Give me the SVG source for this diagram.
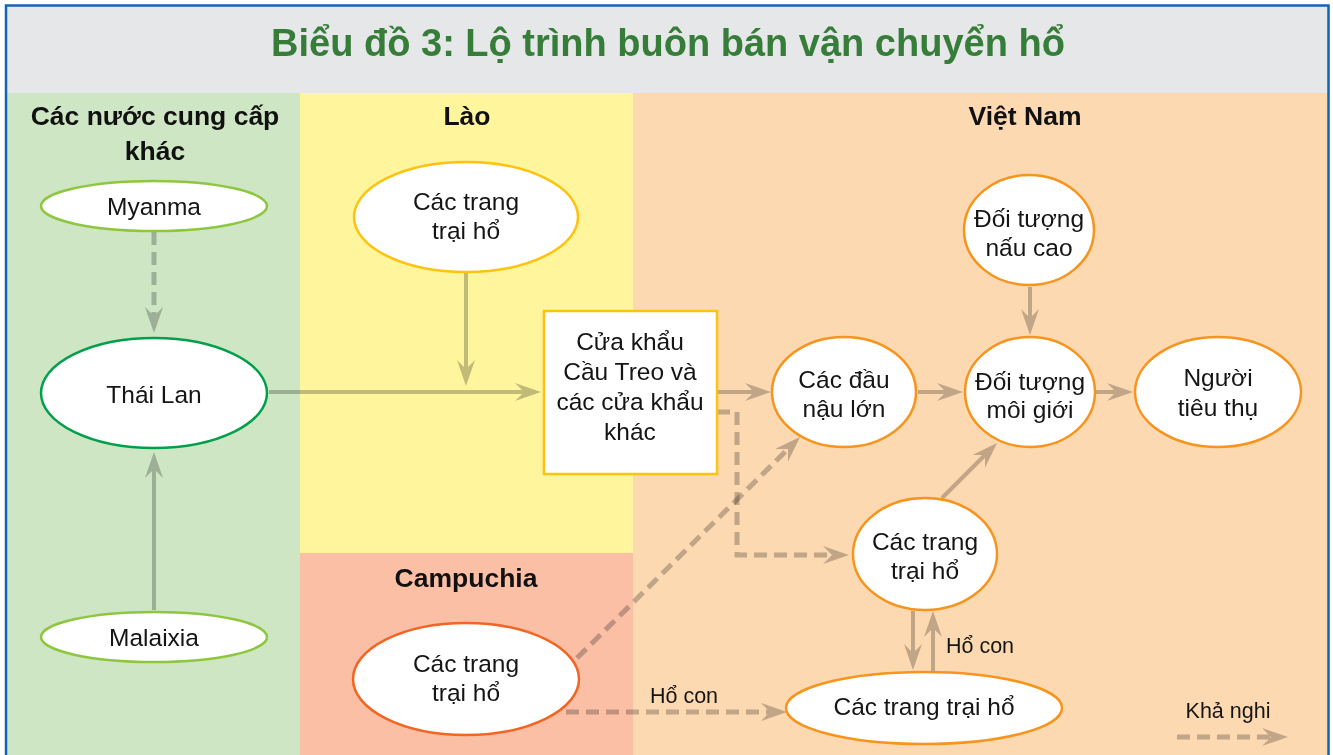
<svg xmlns="http://www.w3.org/2000/svg" width="1333" height="755" viewBox="0 0 1333 755">
  <style>
    .t { font-family: "Liberation Sans", Arial, sans-serif; font-size: 24.5px; fill: #151515; text-anchor: middle; }
    .h { font-family: "Liberation Sans", Arial, sans-serif; font-size: 26.5px; font-weight: bold; fill: #111; text-anchor: middle; }
    .lbl { font-family: "Liberation Sans", Arial, sans-serif; font-size: 21.5px; fill: #151515; text-anchor: middle; }
    .title { font-family: "Liberation Sans", Arial, sans-serif; font-size: 38px; font-weight: bold; fill: #377d3a; text-anchor: middle; }
    .c { fill: none; stroke: #c2c2c2; stroke-width: 4; mix-blend-mode: multiply; marker-end: url(#ah); }
    .d { stroke-width: 5; stroke-dasharray: 13 7; }
    .nGreen { fill: #fff; stroke: #8dc63f; stroke-width: 2.5; }
    .nThai { fill: #fff; stroke: #00a04b; stroke-width: 2.5; }
    .nYel { fill: #fff; stroke: #ffc20e; stroke-width: 2.5; }
    .nCam { fill: #fff; stroke: #f26522; stroke-width: 2.5; }
    .nVN { fill: #fff; stroke: #f7941d; stroke-width: 2.5; }
  </style>
  <defs>
    <marker id="ah" markerUnits="userSpaceOnUse" markerWidth="30" markerHeight="20" refX="9" refY="9" orient="auto">
      <path d="M0,0 L26,9 L0,18 L9,9 Z" fill="#c2c2c2"/>
    </marker>
  </defs>

  <!-- backgrounds -->
  <g id="background">
    <rect x="6" y="5.5" width="1323" height="760" fill="#e6e7e8"/>
    <rect x="7" y="93" width="293" height="662" fill="#cfe6c5"/>
    <rect x="300" y="93" width="333" height="460" fill="#fff59d"/>
    <rect x="300" y="553" width="333" height="202" fill="#fbbfa6"/>
    <rect x="633" y="93" width="695" height="662" fill="#fdd9b1"/>
    <rect x="6" y="5.5" width="1322.5" height="760" fill="none" stroke="#1363b8" stroke-width="2.5"/>
  </g>

  <g id="headers">
    <text class="title" x="668" y="56">Biểu đồ 3: Lộ trình buôn bán vận chuyển hổ</text>
    <text class="h" x="155" y="125">Các nước cung cấp</text>
    <text class="h" x="155" y="160">khác</text>
    <text class="h" x="467" y="125">Lào</text>
    <text class="h" x="1025" y="125">Việt Nam</text>
    <text class="h" x="466" y="587">Campuchia</text>
  </g>

  <g id="connectors">
    <path class="c d" d="M154,232 V316"/>
    <path class="c" d="M154,610 V469"/>
    <path class="c" d="M269,392 H524"/>
    <path class="c" d="M466,273 V369"/>
    <path class="c" d="M717,392 H754"/>
    <path class="c" d="M918,392 H946"/>
    <path class="c" d="M1095,392 H1116"/>
    <path class="c" d="M1030,287 V318"/>
    <path class="c" d="M942,498 L985,455"/>
    <path class="c d" d="M717,412 H737 V555 H832"/>
    <path class="c d" d="M577,658 L788,449"/>
    <path class="c d" d="M566,712 H770"/>
    <path class="c" d="M913,611 V653"/>
    <path class="c" d="M933,671 V628"/>
    <path class="c d" d="M1177,737 H1271"/>
  </g>

  <g id="myanma">
    <ellipse class="nGreen" cx="154" cy="206" rx="113" ry="25"/>
    <text class="t" x="154" y="215">Myanma</text>
  </g>
  <g id="thailan">
    <ellipse class="nThai" cx="154" cy="393" rx="113" ry="55"/>
    <text class="t" x="154" y="403">Thái Lan</text>
  </g>
  <g id="malaixia">
    <ellipse class="nGreen" cx="154" cy="637" rx="113" ry="25"/>
    <text class="t" x="154" y="646">Malaixia</text>
  </g>
  <g id="lao-farm">
    <ellipse class="nYel" cx="466" cy="217" rx="112" ry="55"/>
    <text class="t" x="466" y="210">Các trang</text>
    <text class="t" x="466" y="239">trại hổ</text>
  </g>
  <g id="border-gate">
    <rect class="nYel" x="544" y="311" width="173" height="163"/>
    <text class="t" x="630" y="350">Cửa khẩu</text>
    <text class="t" x="630" y="380">Cầu Treo và</text>
    <text class="t" x="630" y="410">các cửa khẩu</text>
    <text class="t" x="630" y="440">khác</text>
  </g>
  <g id="cam-farm">
    <ellipse class="nCam" cx="466" cy="679" rx="113" ry="56"/>
    <text class="t" x="466" y="672">Các trang</text>
    <text class="t" x="466" y="701">trại hổ</text>
  </g>
  <g id="dau-nau">
    <ellipse class="nVN" cx="844" cy="392" rx="72" ry="55"/>
    <text class="t" x="844" y="388">Các đầu</text>
    <text class="t" x="844" y="417">nậu lớn</text>
  </g>
  <g id="nau-cao">
    <ellipse class="nVN" cx="1029" cy="230" rx="65" ry="55"/>
    <text class="t" x="1029" y="227">Đối tượng</text>
    <text class="t" x="1029" y="256">nấu cao</text>
  </g>
  <g id="moi-gioi">
    <ellipse class="nVN" cx="1030" cy="392" rx="65" ry="55"/>
    <text class="t" x="1030" y="390">Đối tượng</text>
    <text class="t" x="1030" y="418">môi giới</text>
  </g>
  <g id="nguoi-tieu-thu">
    <ellipse class="nVN" cx="1218" cy="392" rx="83" ry="55"/>
    <text class="t" x="1218" y="386">Người</text>
    <text class="t" x="1218" y="416">tiêu thụ</text>
  </g>
  <g id="vn-farm">
    <ellipse class="nVN" cx="925" cy="554" rx="72" ry="56"/>
    <text class="t" x="925" y="550">Các trang</text>
    <text class="t" x="925" y="579">trại hổ</text>
  </g>
  <g id="vn-farm-2">
    <ellipse class="nVN" cx="924" cy="708" rx="138" ry="36"/>
    <text class="t" x="924" y="715">Các trang trại hổ</text>
  </g>

  <g id="labels">
    <text class="lbl" x="980" y="653">Hổ con</text>
    <text class="lbl" x="684" y="703">Hổ con</text>
    <text class="lbl" x="1228" y="718">Khả nghi</text>
  </g>
</svg>
